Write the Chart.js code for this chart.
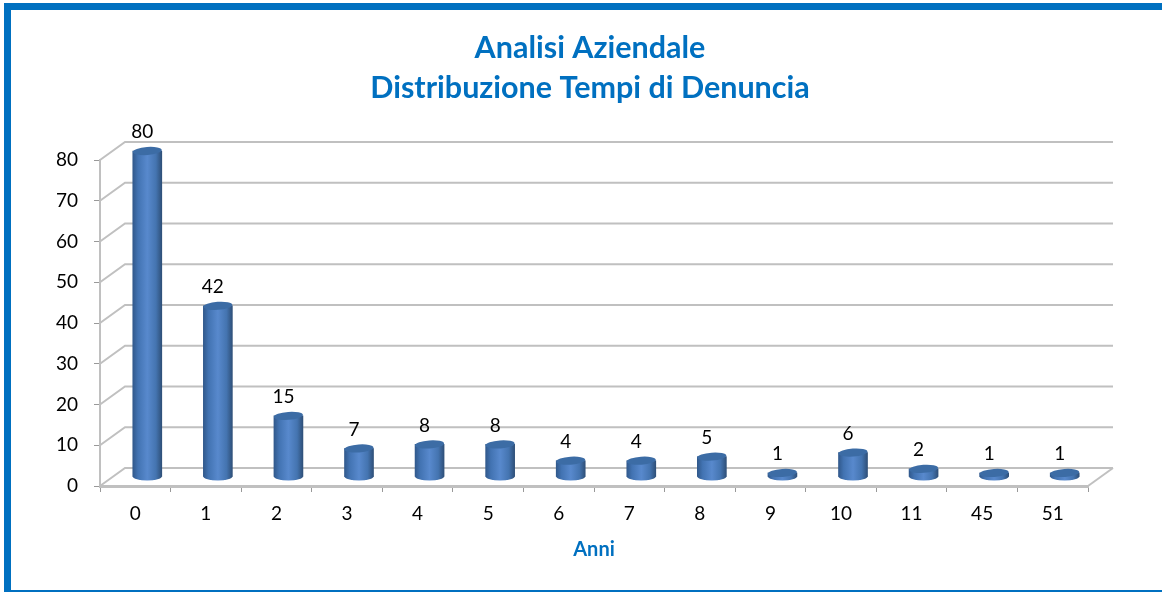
<!DOCTYPE html>
<html>
<head>
<meta charset="utf-8">
<title>Analisi Aziendale</title>
<style>
    html, body { margin: 0; padding: 0; background: #fff; overflow: hidden; }
    #frame {
        position: absolute; left: 4px; top: 3px; width: 1170px; height: 580px;
        border: solid #0070c0; border-width: 7px 0 7px 7px;
    }
    #wrap { position: absolute; left: 0; top: 0; width: 1162px; height: 592px; }
    #chart { filter: blur(0.4px); }
</style>
</head>
<body>
<div id="frame"></div>
<div id="wrap"><canvas id="chart"></canvas></div>
<script src="https://cdn.jsdelivr.net/npm/chart.js@4"></script>
<script>
const categories = ["0", "1", "2", "3", "4", "5", "6", "7", "8", "9", "10", "11", "45", "51"];
const values = [80, 42, 15, 7, 8, 8, 4, 4, 5, 1, 6, 2, 1, 1];
const yTicks = [0, 10, 20, 30, 40, 50, 60, 70, 80];
const titleLines = ["Analisi Aziendale", "Distribuzione Tempi di Denuncia"];
const axisTitle = "Anni";

const BLUE = "#0070c0";
const GREY = "#c0c0c0";
const FONT = "Lato, 'Open Sans', sans-serif";
const DEPTH_X = 25, DEPTH_Y = 18;   // back wall offset
const BAR_X = 12, BAR_Y = -9;       // bars stand in the middle of the floor
const BAR_W = 29, CAP_H = 4;

function barGradient(ctx, cx) {
    const g = ctx.createLinearGradient(cx - BAR_W / 2, 0, cx + BAR_W / 2, 0);
    g.addColorStop(0, "#31598c");
    g.addColorStop(0.18, "#4273b2");
    g.addColorStop(0.5, "#5889cd");
    g.addColorStop(0.8, "#4474b0");
    g.addColorStop(1, "#2f5079");
    return g;
}

// floor and back wall of the fake 3D box
const wallPlugin = {
    id: "wall",
    afterLayout(chart) {
        // y scale is kept narrow for the title centring, widen its label clip
        chart.scales.y.left = 0;
    },
    beforeDatasetsDraw(chart) {
        const { ctx, scales: { x, y } } = chart;
        const left = x.left, right = x.right;
        ctx.save();
        ctx.strokeStyle = GREY;
        ctx.lineWidth = 2;
        yTicks.forEach(v => {
            const py = y.getPixelForValue(v);
            ctx.beginPath();
            ctx.moveTo(left, py);
            ctx.lineTo(left + DEPTH_X, py - DEPTH_Y);
            ctx.lineTo(right + DEPTH_X, py - DEPTH_Y);
            ctx.stroke();
        });
        const p0 = y.getPixelForValue(0);
        ctx.beginPath();
        ctx.moveTo(right, p0);
        ctx.lineTo(right + DEPTH_X, p0 - DEPTH_Y);
        ctx.stroke();
        ctx.restore();
    }
};

// shifts the bars back, adds cylinder caps and the value labels
const cylinderPlugin = {
    id: "cylinder",
    beforeDatasetsDraw(chart) {
        chart.ctx.save();
        chart.ctx.translate(BAR_X, BAR_Y);
        const { ctx } = chart;
        chart.getDatasetMeta(0).data.forEach(bar => {
            ctx.fillStyle = barGradient(ctx, bar.x);
            ctx.beginPath();
            ctx.ellipse(bar.x, bar.base, BAR_W / 2, CAP_H, 0, 0, Math.PI * 2);
            ctx.fill();
        });
    },
    afterDatasetsDraw(chart) {
        const { ctx } = chart;
        chart.getDatasetMeta(0).data.forEach((bar, i) => {
            ctx.fillStyle = "#3c6ca5";
            ctx.beginPath();
            ctx.ellipse(bar.x, bar.y, BAR_W / 2, CAP_H, -0.07, 0, Math.PI * 2);
            ctx.fill();
            ctx.fillStyle = "#000";
            ctx.font = "19px " + FONT;
            ctx.textAlign = "center";
            ctx.textBaseline = "middle";
            ctx.fillText(values[i], bar.x - 5, bar.y - 19);
        });
        ctx.restore();
    }
};

new Chart(document.getElementById("chart"), {
    type: "bar",
    data: {
        labels: categories,
        datasets: [{
            data: values,
            barThickness: BAR_W,
            clip: false,
            backgroundColor(c) {
                const x = c.chart.scales.x;
                const cx = x ? x.getPixelForValue(c.dataIndex) : NaN;
                if (!Number.isFinite(cx)) return "#4f81bd";
                return barGradient(c.chart.ctx, cx);
            }
        }]
    },
    options: {
        responsive: true,
        maintainAspectRatio: false,
        animation: false,
        // left padding keeps the title centred over the frame, not the axes
        layout: { padding: { top: 0, right: 74, left: 92, bottom: 26 } },
        plugins: {
            legend: { display: false },
            tooltip: { enabled: false },
            title: {
                display: true,
                text: titleLines,
                color: BLUE,
                font: { family: FONT, size: 30.5, weight: "bold", lineHeight: 40 / 30.5 },
                padding: { top: 28, bottom: 52 }
            }
        },
        scales: {
            x: {
                offset: true,
                afterFit(scale) { scale.height = 80; },
                border: { color: GREY, width: 3 },
                grid: { drawOnChartArea: false, color: "#999", tickLength: 6 },
                ticks: { color: "#000", font: { family: FONT, size: 19 }, padding: 10, maxRotation: 0 },
                title: {
                    display: true,
                    text: axisTitle,
                    color: BLUE,
                    font: { family: FONT, size: 20, weight: "bold" },
                    padding: { top: 12 }
                }
            },
            y: {
                min: 0,
                max: 80,
                afterFit(scale) { scale.width = 8; },
                border: { color: GREY, width: 2 },
                grid: { drawOnChartArea: false, color: "#999", tickLength: 6 },
                ticks: { color: "#000", font: { family: FONT, size: 19 }, padding: 16, stepSize: 10 }
            }
        }
    },
    plugins: [wallPlugin, cylinderPlugin]
});
</script>
</body>
</html>
